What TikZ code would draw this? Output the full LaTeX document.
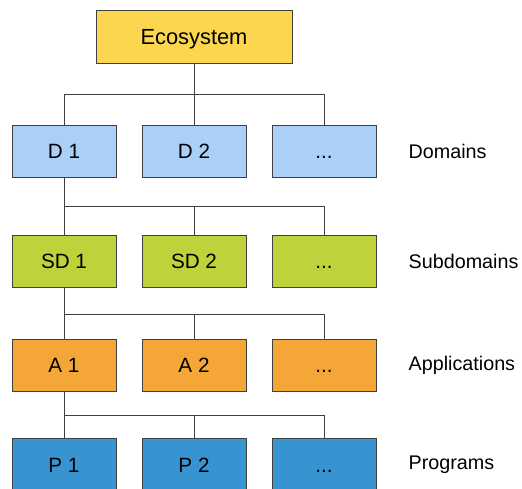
\documentclass[tikz,border=0pt]{standalone}
\usepackage{fontspec}
\setmainfont{Liberation Sans}
\definecolor{ecoyellow}{HTML}{FCD64E}
\definecolor{domblue}{HTML}{ABD0F8}
\definecolor{subgreen}{HTML}{BFD13B}
\definecolor{appor}{HTML}{F4A637}
\definecolor{progblue}{HTML}{3893D1}
\begin{document}
\begin{tikzpicture}[x=0.75pt,y=-0.75pt,
		box/.style={draw=black!75, line width=0.6pt, minimum width=78pt, minimum height=39pt, inner sep=0pt, text height=11pt, text depth=0pt, font=\fontsize{15.5}{18}\selectfont},
		lvl/.style={anchor=west, font=\fontsize{14.8}{17}\selectfont},
		link/.style={draw=black!75, line width=0.6pt}]
		\useasboundingbox (0,0) rectangle (522,489);

		\node[box, fill=ecoyellow, minimum width=147pt, minimum height=40pt, text height=11.8pt, font=\fontsize{16.4}{19}\selectfont] (eco) at (194,37) {Ecosystem};

		% one row of boxes per level
		\foreach \r/\y/\c/\t/\lab in {d/151.5/domblue/D/Domains, sd/261/subgreen/SD/Subdomains, a/365.3/appor/A/Applications, p/464.7/progblue/P/Programs} {
			\node[box, fill=\c] (\r1) at (64,\y) {\t{} 1};
			\node[box, fill=\c] (\r2) at (194,\y) {\t{} 2};
			\node[box, fill=\c] (\r3) at (324,\y) {.{}.{}.};
			\node[lvl] (\r lab) at (404,\y) {\lab};
		}

		% connectors
		\coordinate (bd) at (64,94.5);
		\draw[link] (eco.south) -- (d2.north);
		\draw[link] (bd) -- (d1.north);
		\draw[link] (bd) -| (d3.north);
		\foreach \up/\r/\y in {d/sd/206, sd/a/314, a/p/415.3} {
			\coordinate (b\r) at (64,\y);
			\draw[link] (\up1.south) -- (\r1.north);
			\draw[link] (b\r) -| (\r2.north);
			\draw[link] (b\r) -| (\r3.north);
		}
		\end{tikzpicture}
\end{document}
